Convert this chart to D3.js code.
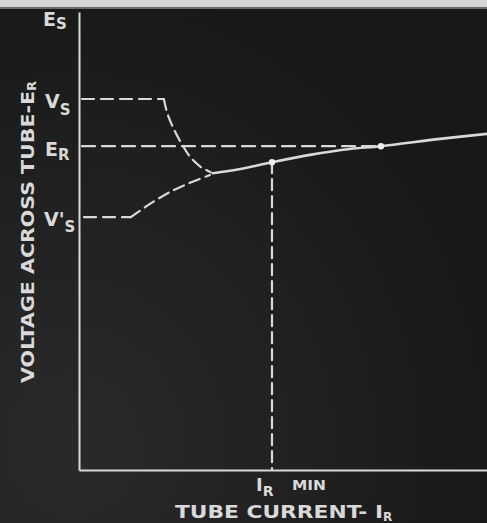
<!DOCTYPE html>
<html><head><meta charset="utf-8">
<script src="https://cdn.jsdelivr.net/npm/d3@7"></script>
<style>html,body{margin:0;padding:0;background:#1c1c1c;overflow:hidden}</style>
</head><body>
<svg id="c" width="487" height="523"></svg>
<script>
// ---- data (chart units: current 0..100, voltage 0..100) ----
const levelNames = ["Es", "Vs", "Er", "Vs'"];
const levelValues = [97.8, 81.0, 70.7, 55.2];
const irMin = 47.3;            // I_R min current
const erDotCurrent = 74.0;     // second marked point on the curve
const vsFlatEnd = 20.8;        // end of V_S horizontal dashed segment
const vspFlatEnd = 12.7;       // end of V'_S horizontal dashed segment
// operating characteristic (solid)
const curveI = [32.8, 39.5, 47.3, 56.6, 66.4, 74.0, 88.5, 100];
const curveV = [64.8, 65.7, 67.2, 68.8, 70.1, 70.7, 72.3, 73.4];
// falling branch from V_S (dashed)
const fallI = [20.8, 21.6, 23.2, 25.3, 27.4, 29.8, 32.3];
const fallV = [81.0, 78.0, 74.5, 71.0, 68.2, 66.2, 65.0];
// rising branch from V'_S (dashed)
const riseI = [12.7, 17.4, 22.3, 27.2, 32.1];
const riseV = [55.2, 58.1, 60.7, 62.7, 64.4];

const W = 487, H = 523;
const svg = d3.select("#c");
const ink = "#d9d9d9";
const font = "'DejaVu Sans', sans-serif";

// background
const defs = svg.append("defs");
const g = defs.append("radialGradient").attr("id","bg").attr("cx","15%").attr("cy","85%").attr("r","90%");
g.append("stop").attr("offset","0%").attr("stop-color","#2a2a2a");
g.append("stop").attr("offset","100%").attr("stop-color","#181818");
svg.append("rect").attr("width",W).attr("height",H).attr("fill","url(#bg)");
svg.append("rect").attr("width",W).attr("height",7).attr("fill","#d6d6d6");
svg.append("rect").attr("y",7).attr("width",W).attr("height",2).attr("fill","#6a6a6a");

const x = d3.scaleLinear().domain([0,100]).range([79,487]);
const y = d3.scaleLinear().domain([0,100]).range([470,12]);

// axes (plain lines, no ticks)
const xAxis = d3.axisBottom(x).tickValues([]).tickSize(0);
const yAxis = d3.axisLeft(y).tickValues([]).tickSize(0);
const ax = svg.append("g").attr("transform",`translate(0,${y(0)})`).call(xAxis);
const ay = svg.append("g").attr("transform",`translate(${x(0)},0)`).call(yAxis);
[ax, ay].forEach(a => a.select(".domain").attr("stroke", ink).attr("stroke-width", 2));

const dashed = (sel, arr) => sel.attr("stroke", ink).attr("stroke-width", 2.2)
  .attr("fill","none").attr("stroke-dasharray", arr).attr("stroke-linecap","round");

// horizontal dashed guides
const levelMap = Object.fromEntries(levelNames.map((n,i)=>[n,levelValues[i]]));
dashed(svg.append("line").attr("x1",x(0)+3).attr("x2",x(vsFlatEnd))
  .attr("y1",y(levelMap["Vs"])).attr("y2",y(levelMap["Vs"])), "12,7");
dashed(svg.append("line").attr("x1",x(0)+3).attr("x2",x(erDotCurrent))
  .attr("y1",y(levelMap["Er"])).attr("y2",y(levelMap["Er"])), "13,7");
dashed(svg.append("line").attr("x1",x(0)+5).attr("x2",x(vspFlatEnd))
  .attr("y1",y(levelMap["Vs'"])).attr("y2",y(levelMap["Vs'"])), "12,7");

// vertical dashed at I_R min
const irV = d3.scaleLinear().domain(curveI).range(curveV)(irMin);
dashed(svg.append("line").attr("x1",x(irMin)).attr("x2",x(irMin))
  .attr("y1",y(irV)).attr("y2",y(0)), "11,6");

const line = d3.line().x(d=>x(d[0])).y(d=>y(d[1])).curve(d3.curveCatmullRom);
dashed(svg.append("path").attr("d", line(d3.zip(fallI, fallV))), "11,6");
dashed(svg.append("path").attr("d", line(d3.zip(riseI, riseV))), "11,6");

svg.append("path").attr("d", line(d3.zip(curveI, curveV)))
  .attr("stroke", ink).attr("stroke-width", 2.6).attr("fill","none").attr("stroke-linecap","round");

// marked points
[irMin, erDotCurrent].forEach(c => {
  const v = d3.scaleLinear().domain(curveI).range(curveV)(c);
  svg.append("circle").attr("cx",x(c)).attr("cy",y(v)).attr("r",3.2).attr("fill","#eeeeee");
});

// ---- labels ----
function sublabel(px, py, main, sub, size, subSize, dy, prime) {
  const t = svg.append("text").attr("x",px).attr("y",py).attr("fill",ink)
    .attr("font-family",font).attr("font-weight","bold").attr("font-size",size);
  t.append("tspan").text(main + (prime ? "'" : ""));
  t.append("tspan").attr("font-size",subSize).attr("dy",dy).text(sub);
  return t;
}
sublabel(43, 26, "E", "S", 19, 15, 3);
sublabel(45, 108, "V", "S", 19, 15, 7);
sublabel(45, 156, "E", "R", 19, 15, 4);
sublabel(44, 226, "V", "S", 19, 15, 6, true);

// y title
const yt = svg.append("text").attr("transform","translate(34,383) rotate(-90)")
  .attr("fill",ink).attr("font-family",font)
  .attr("font-weight","bold").attr("font-size",18);
yt.append("tspan").attr("textLength",292).attr("lengthAdjust","spacingAndGlyphs").text("VOLTAGE ACROSS TUBE-E");
yt.append("tspan").attr("font-size",13).attr("dy",2).text("R");

// I_R min label
const il = svg.append("text").attr("x",256).attr("y",491).attr("fill",ink)
  .attr("font-family",font).attr("font-weight","bold").attr("font-size",18);
il.append("tspan").text("I");
il.append("tspan").attr("font-size",14).attr("dy",5).text("R");
svg.append("text").attr("x",292).attr("y",490).attr("fill",ink)
  .attr("font-family",font).attr("font-weight","bold").attr("font-size",14)
  .attr("textLength",34).attr("lengthAdjust","spacingAndGlyphs").text("MIN");

// x title
const xt = svg.append("text").attr("x",175).attr("y",518).attr("fill",ink)
  .attr("font-family",font).attr("font-weight","bold").attr("font-size",18);
xt.append("tspan").attr("textLength",208).attr("lengthAdjust","spacingAndGlyphs").text("TUBE CURRENT- I");
xt.append("tspan").attr("font-size",12).attr("dy",3).text("R");
</script>
</body></html>
